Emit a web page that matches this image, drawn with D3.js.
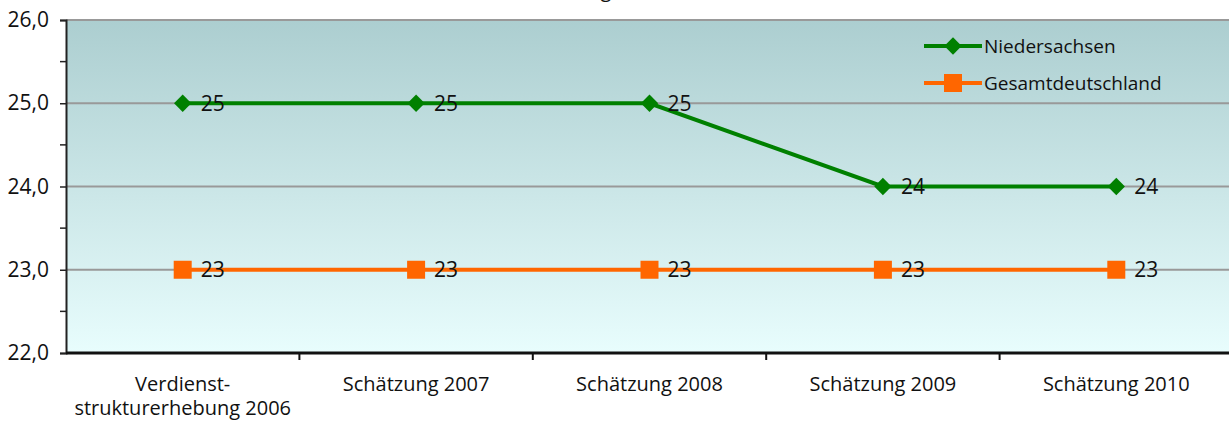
<!DOCTYPE html>
<html>
<head>
<meta charset="utf-8">
<title>Niedersachsen / Gesamtdeutschland</title>
<script src="https://d3js.org/d3.v7.min.js"></script>
<style>
	body { margin: 0; background: #fff; }
	text { font-family: "Open Sans", "DejaVu Sans", sans-serif; fill: #111; }
</style>
</head>
<body>
<div id="chart"></div>
<script>
var categories = ["Verdienst-\nstrukturerhebung 2006", "Schätzung 2007", "Schätzung 2008", "Schätzung 2009", "Schätzung 2010"];
var niedersachsen = [25, 25, 25, 24, 24];
var gesamt = [23, 23, 23, 23, 23];
var seriesNames = ["Niedersachsen", "Gesamtdeutschland"];
var yTicks = [22, 23, 24, 25, 26];

var svgDims = {width: 1229, height: 421};
var margin = {top: 20, right: -4, bottom: 68, left: 66};
var width = svgDims.width - margin.left - margin.right;
var height = svgDims.height - margin.top - margin.bottom;

var svg = d3.select("#chart").append("svg")
	.attr("width", svgDims.width)
	.attr("height", svgDims.height);

// background gradient
var defs = svg.append("defs");
var grad = defs.append("linearGradient").attr("id", "bg")
	.attr("x1", 0).attr("y1", 0).attr("x2", 0).attr("y2", 1);
grad.append("stop").attr("offset", "0%").attr("stop-color", "#acced0");
grad.append("stop").attr("offset", "100%").attr("stop-color", "#e8fdfd");

// title cut off by the top edge, only the descender shows
svg.append("text").attr("x", 606).attr("y", -3)
	.attr("text-anchor", "middle").style("font-size", "20px").text("g");

var g = svg.append("g").attr("transform", "translate(" + margin.left + "," + margin.top + ")");

var x = d3.scaleBand().domain(categories).range([0, width]);
var y = d3.scaleLinear().domain([22, 26]).range([height, 0]);

g.append("rect").attr("width", width).attr("height", height).attr("fill", "url(#bg)");

// gridlines
g.selectAll(".grid").data(yTicks.filter(function(d){ return d > 22; }))
	.enter().append("line")
	.attr("x1", 0).attr("x2", width)
	.attr("y1", function(d){ return y(d); }).attr("y2", function(d){ return y(d); })
	.attr("stroke", "#999").attr("stroke-width", 2);

// y axis
var yAxis = d3.axisLeft(y).tickValues(yTicks).tickSize(6).tickPadding(11)
	.tickFormat(function(d){ return d3.format(".1f")(d).replace(".", ","); });
var ya = g.append("g").call(yAxis);
ya.select(".domain").attr("stroke", "#222").attr("stroke-width", 2);
ya.selectAll(".tick line").attr("stroke", "#222").attr("stroke-width", 1.5);
ya.selectAll(".tick text").style("font-size", "21px").attr("fill", "#111");
// minor ticks
g.selectAll(".minor").data([22.5, 23.5, 24.5, 25.5]).enter().append("line")
	.attr("x1", -6).attr("x2", 0)
	.attr("y1", function(d){ return y(d); }).attr("y2", function(d){ return y(d); })
	.attr("stroke", "#222").attr("stroke-width", 1.5);

// x axis
var xa = g.append("g").attr("transform", "translate(0," + height + ")");
xa.append("line").attr("x1", 0).attr("x2", width).attr("stroke", "#111").attr("stroke-width", 3);
xa.selectAll(".xt").data(categories.slice(1)).enter().append("line")
	.attr("x1", function(d){ return x(d); }).attr("x2", function(d){ return x(d); })
	.attr("y1", 0).attr("y2", 7).attr("stroke", "#111").attr("stroke-width", 2);
xa.selectAll(".xl").data(categories).enter().append("text")
	.attr("text-anchor", "middle")
	.attr("x", function(d){ return x(d) + x.bandwidth() / 2; })
	.attr("y", 38)
	.style("font-size", "20px")
	.each(function(d){
		var parts = d.split("\n");
		var t = d3.select(this);
		parts.forEach(function(p, i){
			t.append("tspan").attr("x", x(d) + x.bandwidth() / 2).attr("dy", i === 0 ? 0 : 24).text(p);
		});
	});

var cx = function(i){ return x(categories[i]) + x.bandwidth() / 2; };
var line = d3.line().x(function(d, i){ return cx(i); }).y(function(d){ return y(d); });

var series = [
	{name: seriesNames[0], values: niedersachsen, color: "#008000", rot: 45, size: 150},
	{name: seriesNames[1], values: gesamt, color: "#ff6600", rot: 0, size: 324}
];

var marker = function(s){ return d3.symbol().type(d3.symbolSquare).size(s.size)(); };

series.slice().reverse().forEach(function(s){
	g.append("path").datum(s.values)
		.attr("fill", "none").attr("stroke", s.color).attr("stroke-width", 4)
		.attr("d", line);
	g.selectAll(null).data(s.values).enter().append("path")
		.attr("transform", function(d, i){ return "translate(" + cx(i) + "," + y(d) + ") rotate(" + s.rot + ")"; })
		.attr("d", marker(s))
		.attr("fill", s.color);
	g.selectAll(null).data(s.values).enter().append("text")
		.attr("x", function(d, i){ return cx(i) + 18; })
		.attr("y", function(d){ return y(d); })
		.attr("dy", "0.35em")
		.style("font-size", "21px")
		.text(function(d){ return d; });
});

// legend
var lg = svg.append("g").attr("transform", "translate(924,46)");
series.forEach(function(s, i){
	var row = lg.append("g").attr("transform", "translate(0," + (i * 37) + ")");
	row.append("line").attr("x1", 0).attr("x2", 58).attr("stroke", s.color).attr("stroke-width", 4);
	row.append("path").attr("transform", "translate(29,0) rotate(" + s.rot + ")")
		.attr("d", marker(s))
		.attr("fill", s.color);
	row.append("text").attr("x", 60).attr("dy", "0.35em").style("font-size", "19px").text(s.name);
});
</script>
</body>
</html>
